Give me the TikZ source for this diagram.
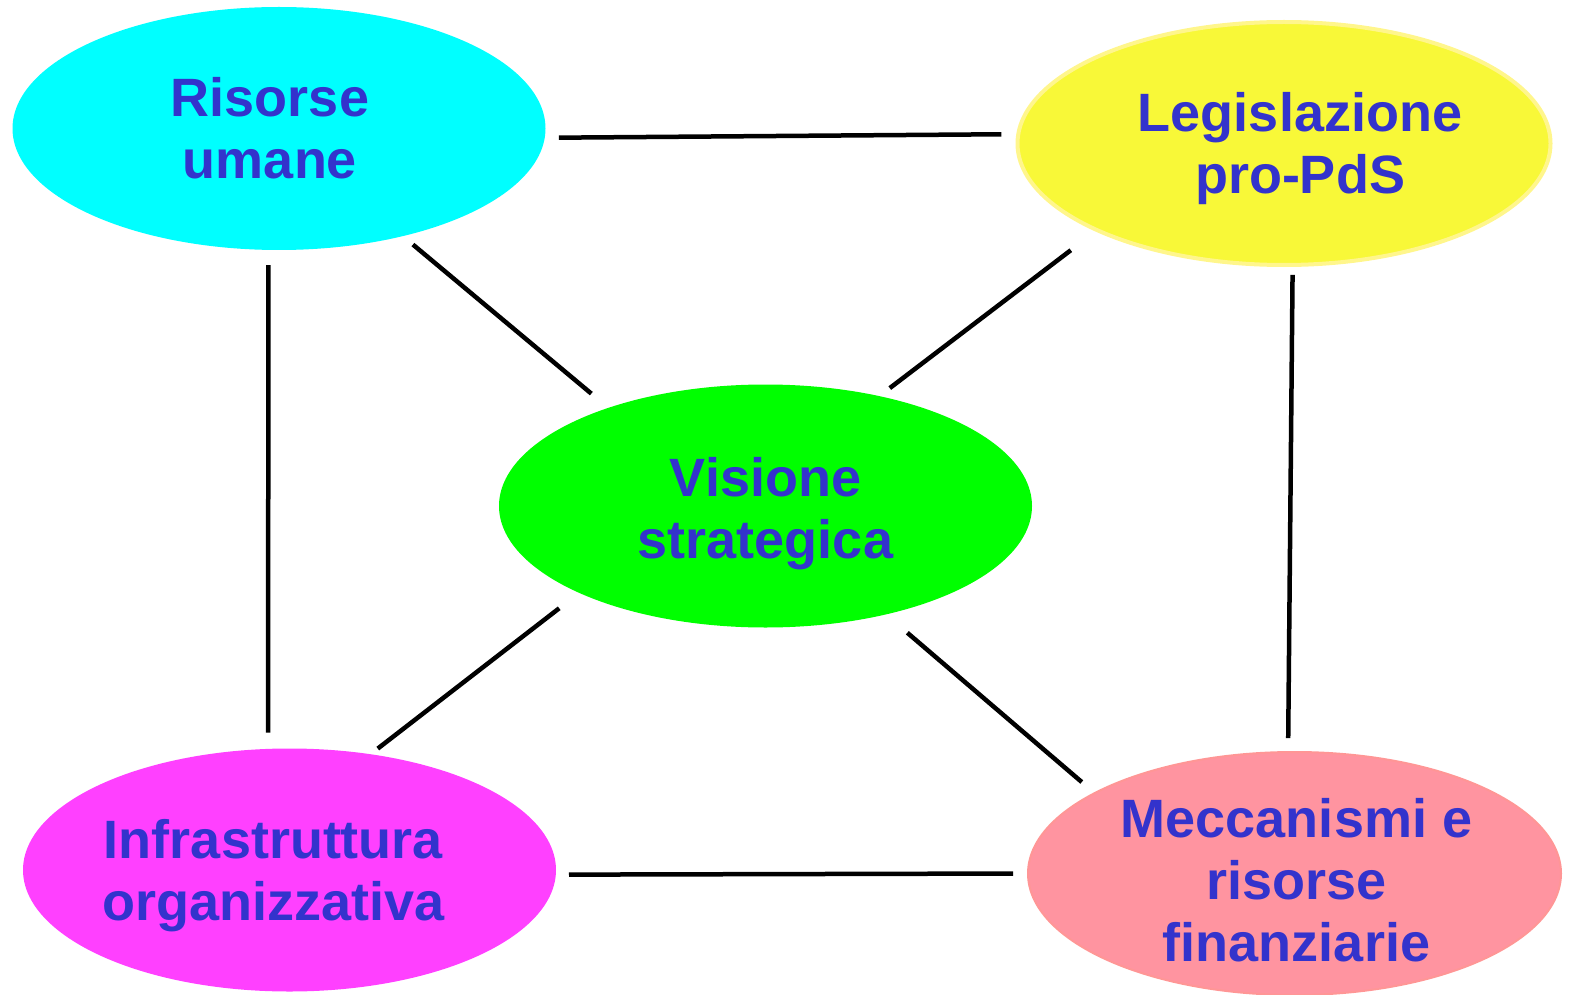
\documentclass[tikz,border=0pt]{standalone}
\usepackage{fontspec}
\setmainfont{Liberation Sans}
\usepackage{tikz}
\usetikzlibrary{shapes.geometric}
\usepackage{xcolor}
\definecolor{labelblue}{RGB}{51,51,204}
\definecolor{cyanbg}{RGB}{0,255,255}
\definecolor{yellowbg}{RGB}{248,248,56}
\definecolor{yellowrim}{RGB}{255,246,140}
\definecolor{greenbg}{RGB}{0,255,0}
\definecolor{magentabg}{RGB}{255,64,255}
\definecolor{pinkbg}{RGB}{255,148,160}
\definecolor{pinkrim}{RGB}{255,150,150}

\begin{document}
\begin{tikzpicture}[x=1pt,y=-1pt,
  bubble/.style={ellipse,minimum width=533pt,minimum height=243pt,inner sep=0pt},
  caption/.style={inner sep=0pt,align=center,text=labelblue,font=\fontsize{54}{62}\selectfont\bfseries},
  link/.style={line width=4.5pt,black}]
\useasboundingbox (0,0) rectangle (1577,995);

\node[bubble,fill=cyanbg] (umane) at (279,128.5) {};
\node[bubble,fill=yellowbg,draw=yellowrim,line width=4pt] (legge) at (1284,143.5) {};
\node[bubble,fill=greenbg] (visione) at (765.5,506) {};
\node[bubble,fill=magentabg] (infra) at (289.5,870) {};
\node[bubble,fill=pinkbg,draw=pinkrim,line width=2pt] (fondi) at (1294.5,873.5) {};

\node[caption,xshift=-9pt] (umane-t) at (umane) {Risorse\\umane};
\node[caption,xshift=16pt,yshift=-5pt] (legge-t) at (legge) {Legislazione\\pro-PdS};
\node[caption,yshift=-8pt] (visione-t) at (visione) {Visione\\strategica};
\node[caption,xshift=-16pt,yshift=-6pt] (infra-t) at (infra) {Infrastruttura\\organizzativa};
\node[caption,xshift=2pt,yshift=-7pt] (fondi-t) at (fondi) {Meccanismi e\\risorse\\finanziarie};

\draw[link,shorten <=14pt,shorten >=15pt] (umane.-2) -- (legge.178);
\draw[link,shorten <=13pt,shorten >=22pt] (umane.-41.5) -- (visione.148.9);
\draw[link,shorten <=31pt,shorten >=13pt] (legge.205.3) -- (visione.44.9);
\draw[link,shorten <=15pt,shorten >=16pt] (umane.-95.4) -- (infra.100.5);
\draw[link,shorten <=8pt,shorten >=13pt] (legge.-86) -- (fondi.93.6);
\draw[link,shorten <=25pt,shorten >=9pt] (visione.205.6) -- (infra.55.2);
\draw[link,shorten <=28pt,shorten >=16pt] (visione.-42.7) -- (fondi.158);
\draw[link,shorten <=13pt,shorten >=14pt] (infra.-1.65) -- (fondi.180);
\end{tikzpicture}
\end{document}
